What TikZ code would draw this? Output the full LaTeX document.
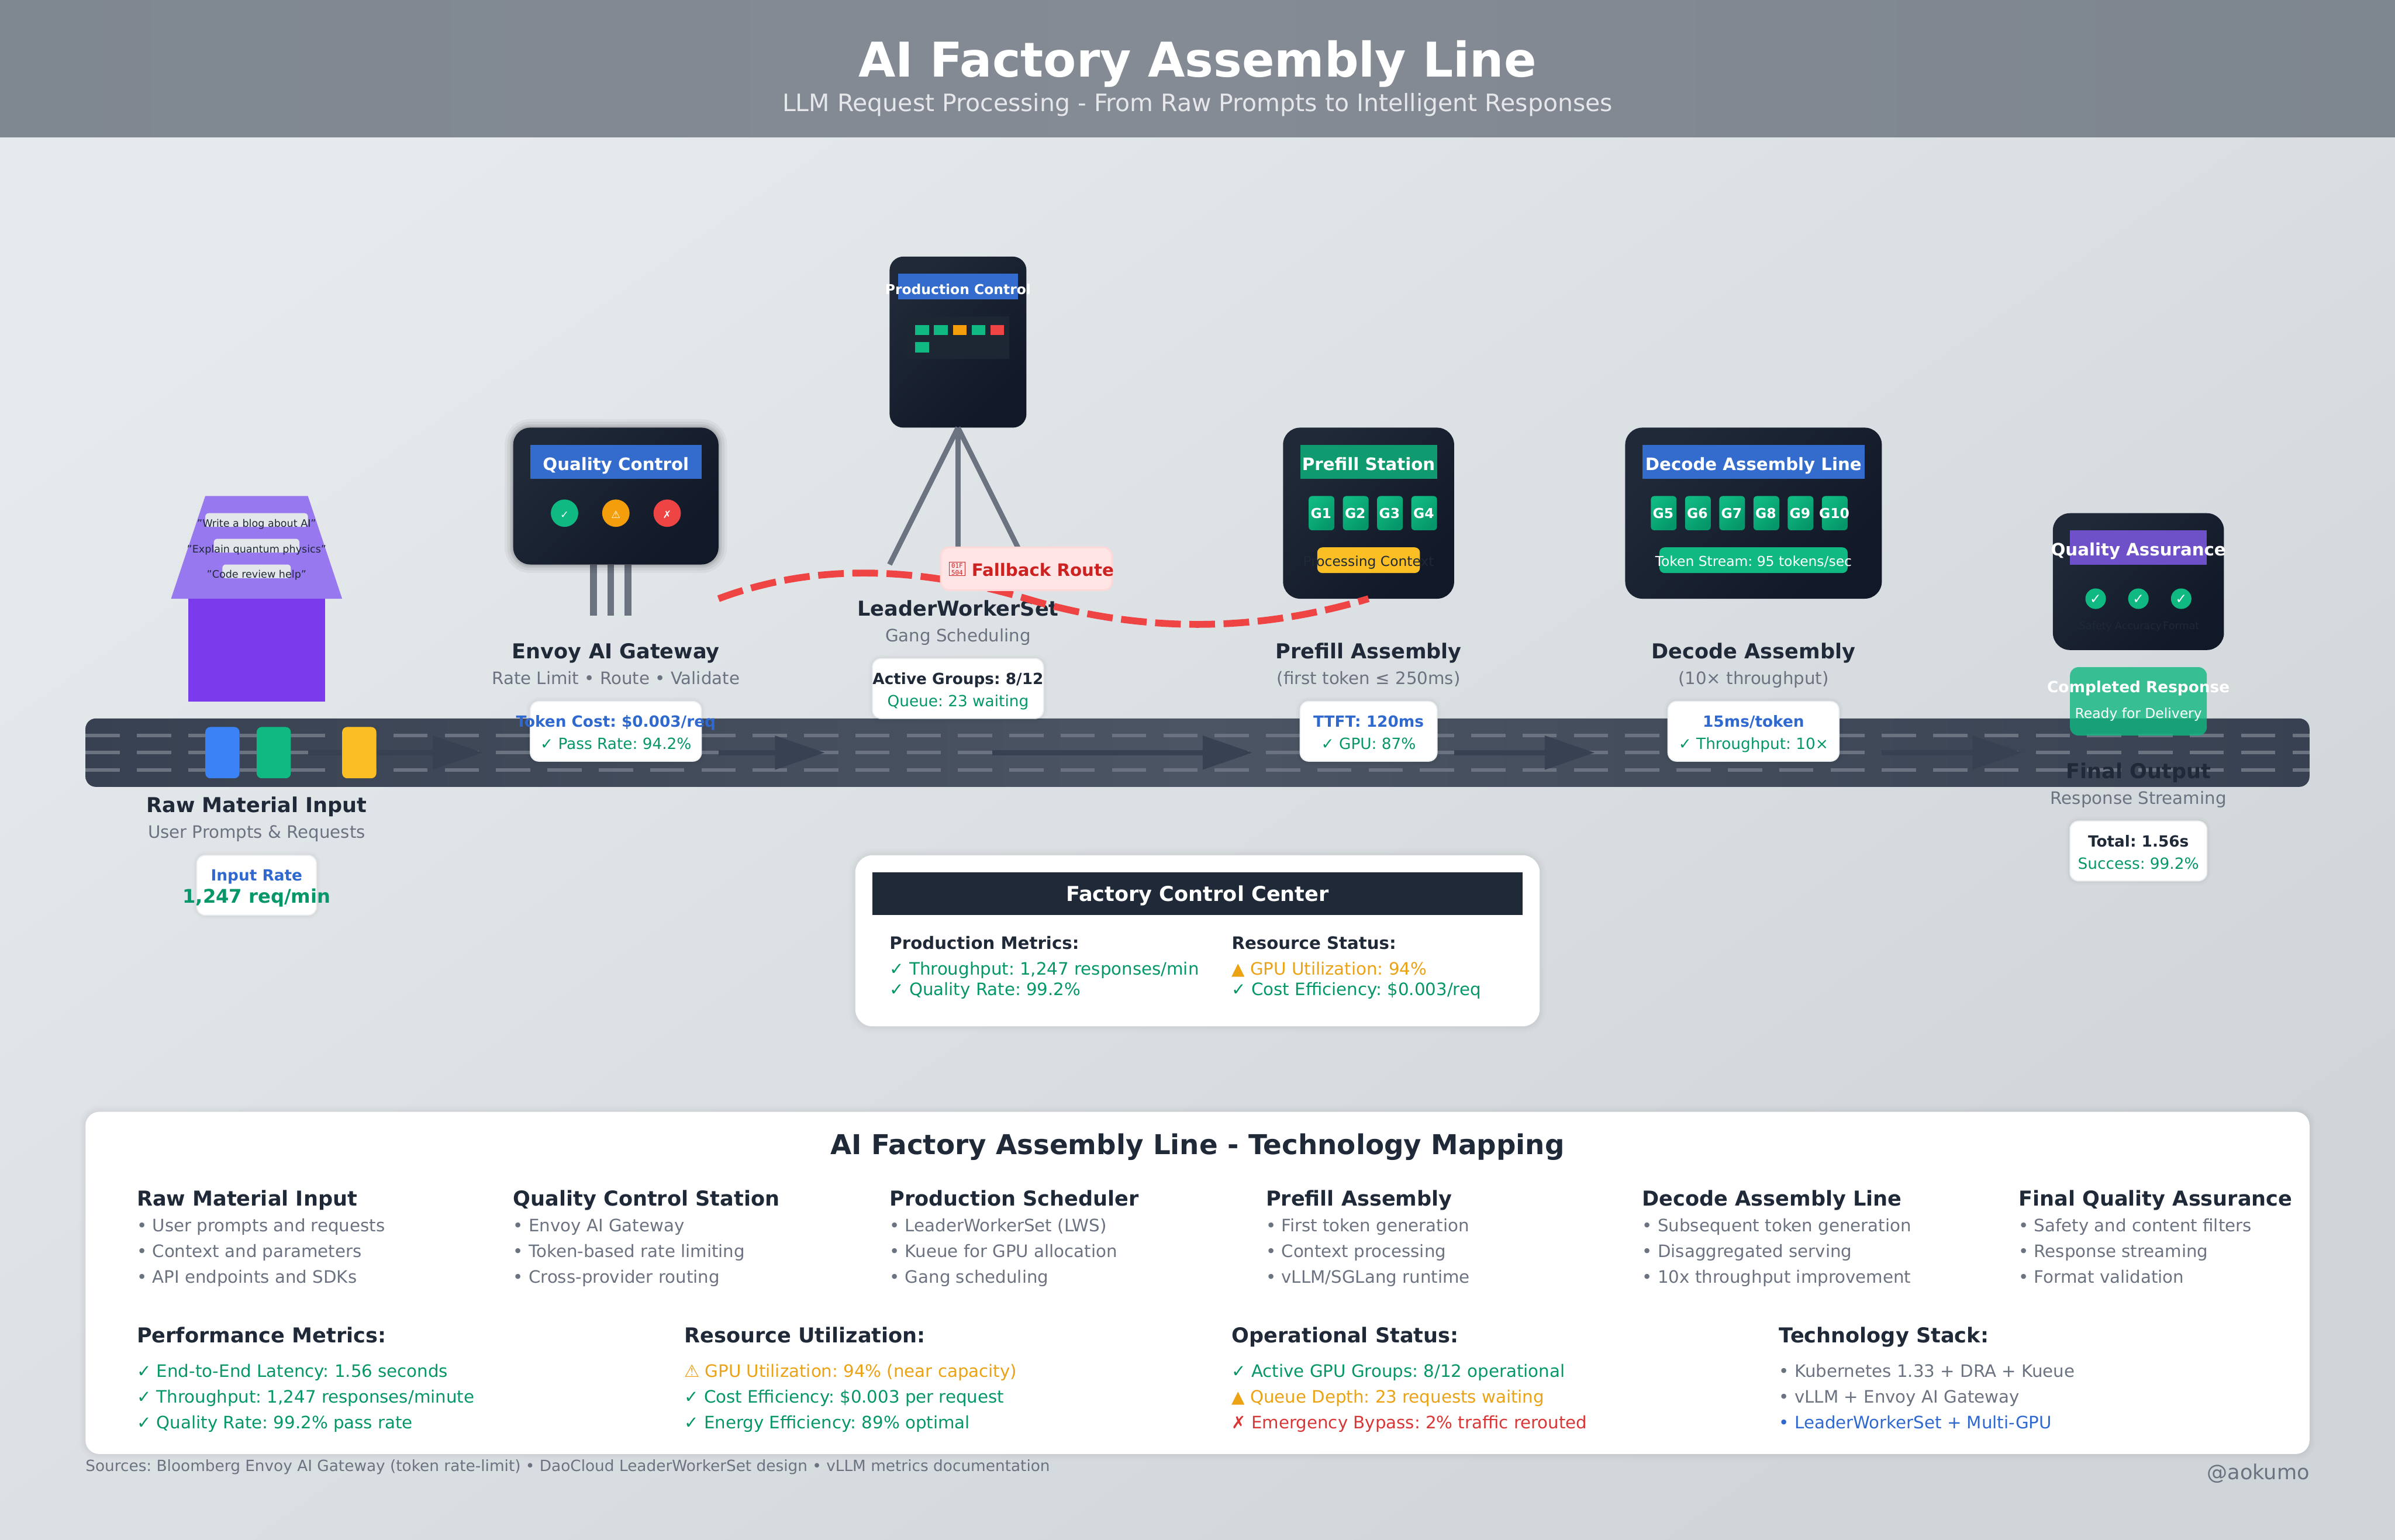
\documentclass[tikz,border=0pt]{standalone}
\usepackage{fontspec}
\setmainfont{DejaVu Sans}
\newfontfamily\monof{DejaVu Sans Mono}
\frenchspacing
\definecolor{ink}{HTML}{1F2937}
\definecolor{ink2}{HTML}{111827}
\definecolor{muted}{HTML}{6B7280}
\definecolor{okgreen}{HTML}{059669}
\definecolor{brightgreen}{HTML}{10B981}
\definecolor{linkblue}{HTML}{2F69CF}
\definecolor{amber}{HTML}{F59E0B}
\definecolor{amtext}{HTML}{EBA214}
\definecolor{alert}{HTML}{D93636}
\definecolor{fbtext}{HTML}{CC2222}
\definecolor{redline}{HTML}{EF4444}
\definecolor{beltdark}{HTML}{374151}
\definecolor{beltmid}{HTML}{4B5563}
\definecolor{bluehead}{HTML}{336CCD}
\definecolor{greenhead}{HTML}{109A6F}
\definecolor{purplehead}{HTML}{6E50C9}
\definecolor{yellowbar}{HTML}{FBBF24}
\definecolor{bluepack}{HTML}{3B82F6}
\definecolor{bgA}{HTML}{E6EAED}
\definecolor{bgB}{HTML}{D0D5D9}
\definecolor{hdrA}{HTML}{7F8791}
\definecolor{hdrB}{HTML}{858B95}
\definecolor{hdrC}{HTML}{7D858F}
\definecolor{funnel}{HTML}{9878EF}
\definecolor{hopper}{HTML}{7C3AED}
\definecolor{slip}{HTML}{E4E7EA}
\definecolor{inset}{HTML}{1C2733}
\definecolor{subtext}{HTML}{E5E7EB}
\tikzset{
  txt/.style={inner sep=0pt,outer sep=0pt,anchor=base,text=ink},
  tl/.style={anchor=base west},
  tr/.style={anchor=base east},
  f6/.style={font=\fontsize{6}{7}\selectfont},
  f8/.style={font=\fontsize{8}{9}\selectfont},
  f9/.style={font=\fontsize{9}{10}\selectfont},
  f10/.style={font=\fontsize{10}{12}\selectfont},
  f12/.style={font=\fontsize{12}{14}\selectfont},
  f14/.style={font=\fontsize{14}{16}\selectfont},
  b8/.style={font=\fontsize{8}{10}\selectfont\bfseries},
  b9/.style={font=\fontsize{9}{11}\selectfont\bfseries},
  b10/.style={font=\fontsize{10}{12}\selectfont\bfseries},
  b11/.style={font=\fontsize{11}{13}\selectfont\bfseries},
  b12/.style={font=\fontsize{12}{14}\selectfont\bfseries},
  b16/.style={font=\fontsize{16}{20}\selectfont\bfseries},
  b28/.style={font=\fontsize{28}{32}\selectfont\bfseries},
  box/.style={inner sep=0pt,outer sep=0pt,anchor=north west,rectangle},
  dark/.style={top color=ink,bottom color=ink2,shading angle=45},
  halo/.style={
    preaction={draw=black,draw opacity=.007,line width=#1*2.6pt},
    preaction={draw=black,draw opacity=.009,line width=#1*2pt},
    preaction={draw=black,draw opacity=.011,line width=#1*1.4pt},
    preaction={draw=black,draw opacity=.014,line width=#1*0.8pt}},
  strong/.style={
    preaction={draw=black,draw opacity=.04,line width=10pt},
    preaction={draw=black,draw opacity=.05,line width=7pt},
    preaction={draw=black,draw opacity=.07,line width=4pt},
    preaction={draw=black,draw opacity=.08,line width=2pt}},
  card/.style={fill=white,draw=ink!8,line width=.6pt,rounded corners=5pt,halo=2},
  gpubox/.style={rounded corners=2pt,top color=brightgreen,bottom color=okgreen,shading angle=45},
  lane/.style={draw=muted,line width=2pt,dash pattern=on 20pt off 10pt},
  flowline/.style={draw=beltdark,line width=3pt},
  flowhead/.style={fill=beltdark},
  leg3/.style={draw=muted,line width=3pt},
  leg4/.style={draw=muted,line width=4pt},
  fallback/.style={draw=redline,line width=4pt,dash pattern=on 15pt off 5pt},
}
\newcounter{tc}
\newcommand{\Tx}[4]{\stepcounter{tc}\node[txt,#3] (t\the\value{tc}) at (#1,#2) {#4};}
\newcommand{\Bx}[6]{\node[box,minimum width=#4 pt,minimum height=#5 pt,#6] (#1) at (#2,#3) {};}
\newcommand{\Gpu}[3]{\Bx{#3}{#1}{290}{15}{20}{gpubox}\Tx{#1+7.2}{303}{b8,text=white}{#2}}
\begin{document}
\begin{tikzpicture}[x=1pt,y=-1pt]
\useasboundingbox (0,0) rectangle (1400,900);
% background
\shade[top color=bgA,bottom color=bgB,shading angle=35] (0,0) rectangle (1400,900);
\shade[left color=hdrA,right color=hdrC,middle color=hdrB] (0,0) rectangle (1400,80);
\Tx{700}{45}{b28,text=white}{AI Factory Assembly Line}
\Tx{700}{65}{f14,text=subtext}{LLM Request Processing - From Raw Prompts to Intelligent Responses}
% belt
\node[box,minimum width=1300pt,minimum height=40pt,rounded corners=6pt,left color=beltdark,right color=beltdark,middle color=beltmid] (belt) at (50,420) {};
\foreach \y in {430,440,450} \draw[lane] (50,\y) -- (1350,\y);
\foreach \a/\b in {180/253,420/453,580/703,850/903,1100/1153}{
  \draw[flowline] (\a,440) -- (\b+2,440);
  \fill[flowhead] (\b,430) -- (\b+29,440) -- (\b,450) -- cycle;
}
\Bx{pA}{120}{425}{20}{30}{fill=bluepack,rounded corners=3pt}
\Bx{pB}{150}{425}{20}{30}{fill=brightgreen,rounded corners=3pt}
\Bx{pC}{200}{425}{20}{30}{fill=yellowbar,rounded corners=3pt}
% hopper
\fill[funnel] (120,290) -- (180,290) -- (200,350) -- (100,350) -- cycle;
\Bx{hopperbody}{110}{350}{80}{60}{fill=hopper}
\Bx{s1}{120}{300}{60}{8}{fill=slip,rounded corners=2pt}
\Bx{s2}{125}{315}{50}{8}{fill=slip,rounded corners=2pt}
\Bx{s3}{130}{330}{40}{8}{fill=slip,rounded corners=2pt}
\Tx{150}{308}{f6}{"Write a blog about AI"}
\Tx{150}{323}{f6}{"Explain quantum physics"}
\Tx{150}{338}{f6}{"Code review help"}
\Tx{150}{475}{b12}{Raw Material Input}
\Tx{150}{490}{f10,text=muted}{User Prompts \& Requests}
\Bx{cRaw}{115}{500}{70}{35}{card}
\Tx{150}{515}{b9,text=linkblue}{Input Rate}
\Tx{150}{528}{b11,text=okgreen}{1,247 req/min}
% quality control
\draw[leg4] (347,330) -- (347,360);
\draw[leg4] (357,330) -- (357,360);
\draw[leg4] (367,330) -- (367,360);
\Bx{qc}{300}{250}{120}{80}{dark,rounded corners=10pt,strong}
\Bx{qch}{310}{260}{100}{20}{fill=bluehead}
\Tx{360}{275}{b10,text=white}{Quality Control}
\foreach \cx/\cc/\g in {330/brightgreen/✓,360/amber/⚠,390/redline/✗}{
  \fill[\cc] (\cx,300) circle (8pt);
  \Tx{\cx}{303}{f6,text=white}{\g}
}
\Tx{360}{385}{b12}{Envoy AI Gateway}
\Tx{360}{400}{f10,text=muted}{Rate Limit • Route • Validate}
\Bx{cQc}{310}{410}{100}{35}{card}
\Tx{360}{425}{b9,text=linkblue}{Token Cost: \$0.003/req}
\Tx{360}{438}{f9,text=okgreen}{✓ Pass Rate: 94.2\%}
% production control
\Bx{prod}{520}{150}{80}{100}{dark,rounded corners=8pt}
\coordinate (legL) at (520,330);
\coordinate (legM) at (560,330);
\coordinate (legR) at (600,330);
\draw[leg3] (prod.south) -- (legL);
\draw[leg3] (prod.south) -- (legM);
\draw[leg3] (prod.south) -- (legR);
\Bx{prodh}{525}{160}{70}{15}{fill=bluehead}
\Tx{560}{172}{b8,text=white}{Production Control}
\Bx{prodi}{530}{185}{60}{25}{fill=inset}
\foreach \x/\c/\n in {535/brightgreen/a,546/brightgreen/b,557/amber/c,568/brightgreen/d,579/redline/e}{
  \Bx{sq\n}{\x}{190}{8}{6}{fill=\c}
}
\Bx{sqf}{535}{200}{8}{6}{fill=brightgreen}
\Tx{560}{360}{b12}{LeaderWorkerSet}
\Tx{560}{375}{f10,text=muted}{Gang Scheduling}
\Bx{cLws}{510}{385}{100}{35}{card}
\Tx{560}{400}{b9}{Active Groups: 8/12}
\Tx{560}{413}{f9,text=okgreen}{Queue: 23 waiting}
% prefill
\Bx{pre}{750}{250}{100}{100}{dark,rounded corners=10pt}
\Bx{preh}{760}{260}{80}{20}{fill=greenhead}
\Tx{800}{275}{b10,text=white}{Prefill Station}
\Gpu{765}{G1}{g1}
\Gpu{785}{G2}{g2}
\Gpu{805}{G3}{g3}
\Gpu{825}{G4}{g4}
\Bx{prectx}{770}{320}{60}{15}{fill=yellowbar,rounded corners=3pt}
\Tx{800}{331}{f8}{Processing Context}
\Tx{800}{385}{b12}{Prefill Assembly}
\Tx{800}{400}{f10,text=muted}{(first token ≤ 250ms)}
\Bx{cPre}{760}{410}{80}{35}{card}
\Tx{800}{425}{b9,text=linkblue}{TTFT: 120ms}
\Tx{800}{438}{f9,text=okgreen}{✓ GPU: 87\%}
% decode
\Bx{dec}{950}{250}{150}{100}{dark,rounded corners=10pt}
\Bx{dech}{960}{260}{130}{20}{fill=bluehead}
\Tx{1025}{275}{b10,text=white}{Decode Assembly Line}
\Gpu{965}{G5}{g5}
\Gpu{985}{G6}{g6}
\Gpu{1005}{G7}{g7}
\Gpu{1025}{G8}{g8}
\Gpu{1045}{G9}{g9}
\Gpu{1065}{G10}{g10}
\Bx{decs}{970}{320}{110}{15}{fill=brightgreen,rounded corners=3pt}
\Tx{1025}{331}{f8,text=white}{Token Stream: 95 tokens/sec}
\Tx{1025}{385}{b12}{Decode Assembly}
\Tx{1025}{400}{f10,text=muted}{(10× throughput)}
\Bx{cDec}{975}{410}{100}{35}{card}
\Tx{1025}{425}{b9,text=linkblue}{15ms/token}
\Tx{1025}{438}{f9,text=okgreen}{✓ Throughput: 10×}
% QA
\Bx{qa}{1200}{300}{100}{80}{dark,rounded corners=10pt}
\Bx{qah}{1210}{310}{80}{20}{fill=purplehead}
\Tx{1250}{325}{b10,text=white}{Quality Assurance}
\foreach \cx/\w in {1225/Safety,1250/Accuracy,1275/Format}{
  \fill[brightgreen] (\cx,350) circle (6pt);
  \Tx{\cx}{353}{f8,text=white}{✓}
  \Tx{\cx}{368}{f6}{\w}
}
\Bx{done}{1210}{390}{80}{40}{fill=brightgreen,fill opacity=.8,rounded corners=5pt}
\Tx{1250}{405}{b9,text=white}{Completed Response}
\Tx{1250}{420}{f8,text=white}{Ready for Delivery}
\Tx{1250}{455}{b12}{Final Output}
\Tx{1250}{470}{f10,text=muted}{Response Streaming}
\Bx{cOut}{1210}{480}{80}{35}{card}
\Tx{1250}{495}{b9}{Total: 1.56s}
\Tx{1250}{508}{f9,text=okgreen}{Success: 99.2\%}
% fallback route
\coordinate (fbStart) at (420,350);
\coordinate (fbMid) at (600,350);
\draw[fallback] (fbStart) .. controls (473.33,330) and (533.33,330) .. (fbMid) .. controls (666.67,370) and (733.33,370) .. (pre.south);
\Bx{fbl}{550}{320}{100}{25}{fill=red!10!white,draw=red!15!white,line width=1pt,rounded corners=5pt}
\Bx{tofu}{555}{328.5}{9}{8}{draw=fbtext,line width=.3pt}
\Tx{559.5}{332}{text=fbtext,font=\monof\fontsize{3.7}{4}\selectfont}{01F}
\Tx{559.5}{336}{text=fbtext,font=\monof\fontsize{3.7}{4}\selectfont}{504}
\Tx{568}{337}{b10,tl,text=fbtext}{Fallback Route}
% control centre
\Bx{ctl}{500}{500}{400}{100}{fill=white,rounded corners=10pt,halo=3}
\Bx{ctlh}{510}{510}{380}{25}{fill=ink}
\Tx{700}{527}{b12,text=white}{Factory Control Center}
\Tx{520}{555}{b10,tl}{Production Metrics:}
\Tx{520}{570}{f10,tl,text=okgreen}{✓ Throughput: 1,247 responses/min}
\Tx{520}{582}{f10,tl,text=okgreen}{✓ Quality Rate: 99.2\%}
\Tx{720}{555}{b10,tl}{Resource Status:}
\Tx{720}{570}{f10,tl,text=amtext}{▲ GPU Utilization: 94\%}
\Tx{720}{582}{f10,tl,text=okgreen}{✓ Cost Efficiency: \$0.003/req}
% technology mapping
\Bx{map}{50}{650}{1300}{200}{fill=white,rounded corners=8pt,halo=3}
\Tx{700}{675}{b16}{AI Factory Assembly Line - Technology Mapping}
\Tx{80}{705}{b12,tl}{Raw Material Input}
\Tx{80}{720}{f10,tl,text=muted}{• User prompts and requests}
\Tx{80}{735}{f10,tl,text=muted}{• Context and parameters}
\Tx{80}{750}{f10,tl,text=muted}{• API endpoints and SDKs}
\Tx{300}{705}{b12,tl}{Quality Control Station}
\Tx{300}{720}{f10,tl,text=muted}{• Envoy AI Gateway}
\Tx{300}{735}{f10,tl,text=muted}{• Token-based rate limiting}
\Tx{300}{750}{f10,tl,text=muted}{• Cross-provider routing}
\Tx{520}{705}{b12,tl}{Production Scheduler}
\Tx{520}{720}{f10,tl,text=muted}{• LeaderWorkerSet (LWS)}
\Tx{520}{735}{f10,tl,text=muted}{• Kueue for GPU allocation}
\Tx{520}{750}{f10,tl,text=muted}{• Gang scheduling}
\Tx{740}{705}{b12,tl}{Prefill Assembly}
\Tx{740}{720}{f10,tl,text=muted}{• First token generation}
\Tx{740}{735}{f10,tl,text=muted}{• Context processing}
\Tx{740}{750}{f10,tl,text=muted}{• vLLM/SGLang runtime}
\Tx{960}{705}{b12,tl}{Decode Assembly Line}
\Tx{960}{720}{f10,tl,text=muted}{• Subsequent token generation}
\Tx{960}{735}{f10,tl,text=muted}{• Disaggregated serving}
\Tx{960}{750}{f10,tl,text=muted}{• 10x throughput improvement}
\Tx{1180}{705}{b12,tl}{Final Quality Assurance}
\Tx{1180}{720}{f10,tl,text=muted}{• Safety and content filters}
\Tx{1180}{735}{f10,tl,text=muted}{• Response streaming}
\Tx{1180}{750}{f10,tl,text=muted}{• Format validation}
\Tx{80}{785}{b12,tl}{Performance Metrics:}
\Tx{80}{805}{f10,tl,text=okgreen}{✓ End-to-End Latency: 1.56 seconds}
\Tx{80}{820}{f10,tl,text=okgreen}{✓ Throughput: 1,247 responses/minute}
\Tx{80}{835}{f10,tl,text=okgreen}{✓ Quality Rate: 99.2\% pass rate}
\Tx{400}{785}{b12,tl}{Resource Utilization:}
\Tx{400}{805}{f10,tl,text=amtext}{⚠ GPU Utilization: 94\% (near capacity)}
\Tx{400}{820}{f10,tl,text=okgreen}{✓ Cost Efficiency: \$0.003 per request}
\Tx{400}{835}{f10,tl,text=okgreen}{✓ Energy Efficiency: 89\% optimal}
\Tx{720}{785}{b12,tl}{Operational Status:}
\Tx{720}{805}{f10,tl,text=okgreen}{✓ Active GPU Groups: 8/12 operational}
\Tx{720}{820}{f10,tl,text=amtext}{▲ Queue Depth: 23 requests waiting}
\Tx{720}{835}{f10,tl,text=alert}{✗ Emergency Bypass: 2\% traffic rerouted}
\Tx{1040}{785}{b12,tl}{Technology Stack:}
\Tx{1040}{805}{f10,tl,text=muted}{• Kubernetes 1.33 + DRA + Kueue}
\Tx{1040}{820}{f10,tl,text=muted}{• vLLM + Envoy AI Gateway}
\Tx{1040}{835}{f10,tl,text=linkblue}{• LeaderWorkerSet + Multi-GPU}
\Tx{50}{860}{f9,tl,text=muted}{Sources: Bloomberg Envoy AI Gateway (token rate-limit) • DaoCloud LeaderWorkerSet design • vLLM metrics documentation}
\Tx{1350}{865}{f12,tr,text=muted}{@aokumo}
\end{tikzpicture}
\end{document}
